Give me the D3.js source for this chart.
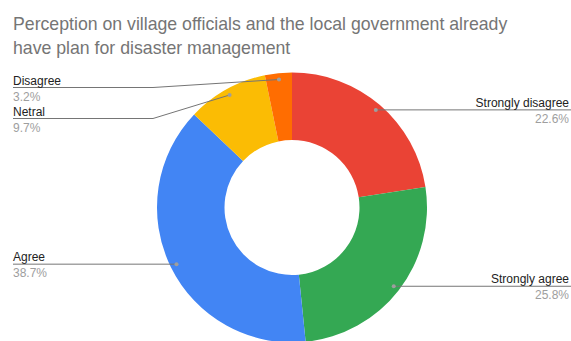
<!DOCTYPE html>
<html>
<head>
<meta charset="utf-8">
<script src="https://cdn.jsdelivr.net/npm/d3@7"></script>
<style>
  html, body { margin: 0; padding: 0; background: #fff; }
  svg { display: block; font-family: "Liberation Sans", Arial, sans-serif; }
</style>
</head>
<body>
<svg id="chart" width="571" height="341"></svg>
<script>
// Survey responses (respondent counts), in drawing order clockwise from 12 o'clock
const categories = ["Strongly disagree", "Strongly agree", "Agree", "Netral", "Disagree"];
const counts = [7, 8, 12, 3, 1];
const colors = ["#EA4335", "#34A853", "#4285F4", "#FBBC04", "#FF6D01"];
const titleLines = [
  "Perception on village officials and the local government already",
  "have plan for disaster management"
];

const W = 571, H = 341;
const cx = 292, cy = 207.5;
const outerR = 135, innerR = 67.5;
const dotR = outerR * 0.953;

const svg = d3.select("#chart");

// Title
svg.append("g").selectAll("text")
  .data(titleLines)
  .join("text")
  .attr("x", 13)
  .attr("y", (d, i) => 30 + i * 24)
  .attr("fill", "#757575")
  .attr("font-size", 17.7)
  .text(d => d);

const total = d3.sum(counts);
const data = categories.map((c, i) => ({ name: c, value: counts[i], color: colors[i] }));

const pie = d3.pie().value(d => d.value).sort(null);
const arcs = pie(data);
const arc = d3.arc().innerRadius(innerR).outerRadius(outerR);

const g = svg.append("g").attr("transform", `translate(${cx},${cy})`);
g.selectAll("path")
  .data(arcs)
  .join("path")
  .attr("d", arc)
  .attr("fill", d => d.data.color);

// Leader lines and labels
const fmt = d3.format(".1%");
const items = arcs.map(a => {
  const mid = (a.startAngle + a.endAngle) / 2;
  const x = cx + Math.sin(mid) * dotR;
  const y = cy - Math.cos(mid) * dotR;
  return { a, x, y, right: Math.sin(mid) > 0 };
});

// Stack left-side labels top-down so they don't collide
const topLimit = 87.5, spacing = 31;
const left = items.filter(d => !d.right).sort((p, q) => p.y - q.y);
let prev = -Infinity;
left.forEach(d => {
  d.ly = Math.max(d.y, topLimit, prev + spacing);
  prev = d.ly;
});
items.filter(d => d.right).forEach(d => { d.ly = d.y; });

const labels = svg.append("g");
items.forEach(d => {
  const lineColor = "#757575";
  if (d.right) {
    labels.append("line")
      .attr("x1", d.x).attr("y1", d.ly).attr("x2", W).attr("y2", d.ly)
      .attr("stroke", lineColor).attr("stroke-width", 1);
  } else {
    const elbowX = Math.abs(d.ly - d.y) > 0.5 ? 153 : d.x;
    labels.append("polyline")
      .attr("points", [[13, d.ly], [elbowX, d.ly], [d.x, d.y]].map(p => p.join(",")).join(" "))
      .attr("fill", "none")
      .attr("stroke", lineColor).attr("stroke-width", 1);
  }
  labels.append("circle")
    .attr("cx", d.x).attr("cy", d.y).attr("r", 2)
    .attr("fill", "#9e9e9e");

  const tx = d.right ? 569 : 13;
  const anchor = d.right ? "end" : "start";
  labels.append("text")
    .attr("x", tx).attr("y", d.ly - 3)
    .attr("text-anchor", anchor)
    .attr("font-size", 12)
    .attr("fill", "#222222")
    .text(d.a.data.name);
  labels.append("text")
    .attr("x", tx).attr("y", d.ly + 13)
    .attr("text-anchor", anchor)
    .attr("font-size", 12)
    .attr("fill", "#9e9e9e")
    .text(fmt(d.a.data.value / total));
});
</script>
</body>
</html>
